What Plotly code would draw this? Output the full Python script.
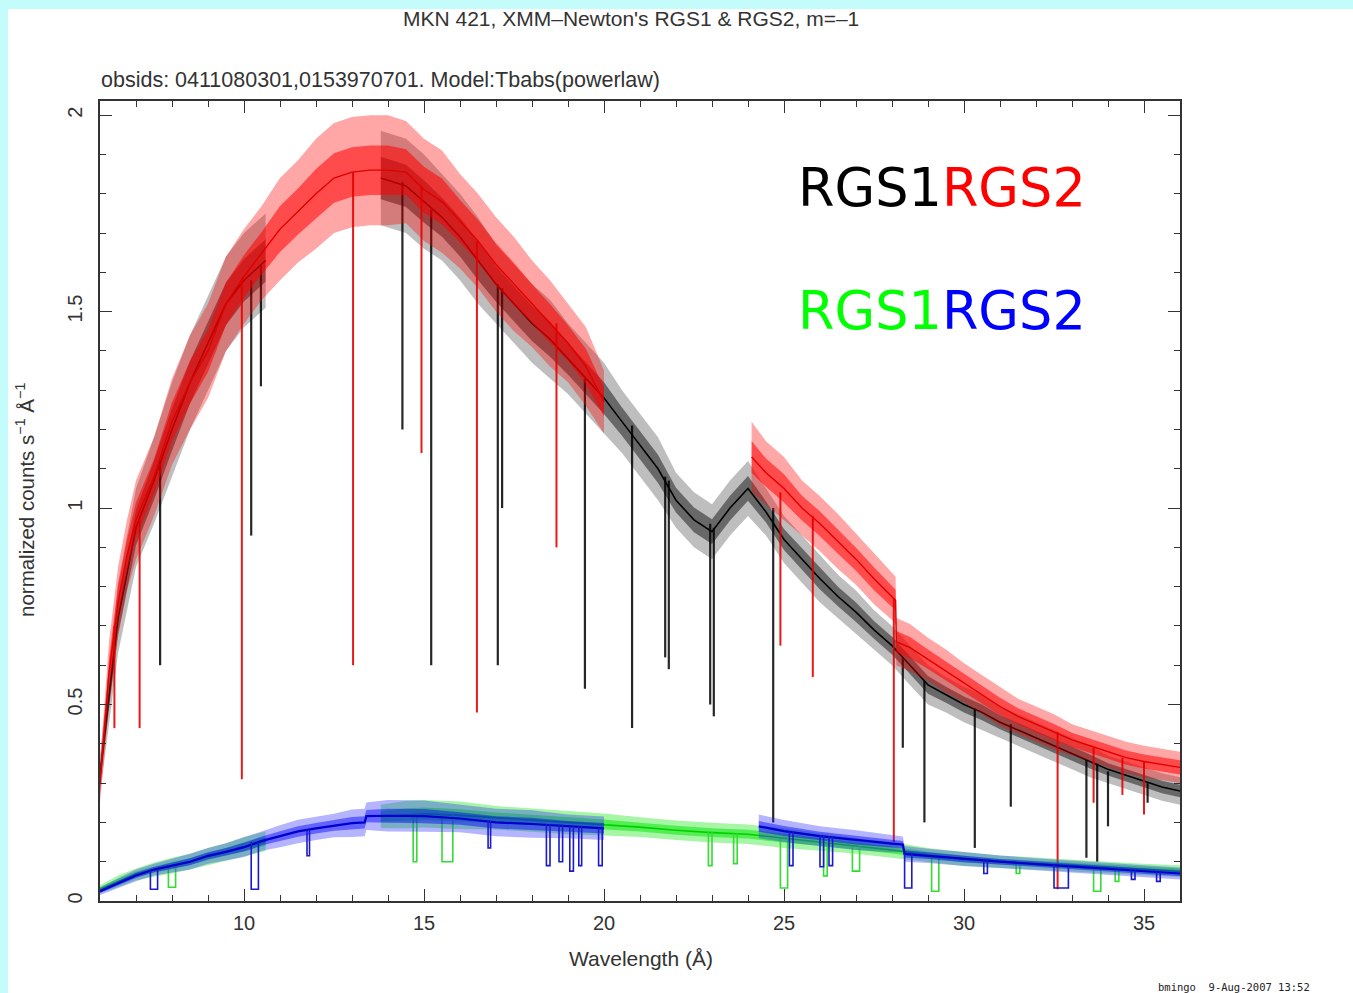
import plotly.graph_objects as go

# ---------------- data ----------------
# RGS1, obs 1 (black) -- two chip segments
BLK_A_WL = [6.0, 6.5, 7.0, 7.5, 8.0, 8.5, 9.0, 9.5, 10.0, 10.6]
BLK_A_FLUX = [0.32, 0.72, 0.95, 1.07, 1.20, 1.32, 1.42, 1.52, 1.58, 1.63]
BLK_A_ERR = [0.05, 0.09, 0.10, 0.11, 0.12, 0.12, 0.12, 0.12, 0.12, 0.12]
BLK_B_WL = [13.8, 14.5, 15.0, 15.5, 16.0, 16.5, 17.0, 17.5, 18.0, 18.5,
            19.0, 19.5, 20.0, 20.5, 21.0, 21.5, 22.0, 22.5, 23.0, 23.5,
            24.0, 24.5, 25.0, 25.5, 26.0, 26.5, 27.0, 27.5, 28.0, 28.5,
            29.0, 29.5, 30.0, 30.5, 31.0, 31.5, 32.0, 32.5, 33.0, 33.5,
            34.0, 34.5, 35.0, 35.5, 36.0]
BLK_B_FLUX = [1.84, 1.82, 1.78, 1.74, 1.69, 1.63, 1.57, 1.52, 1.47, 1.43,
              1.38, 1.33, 1.28, 1.22, 1.16, 1.10, 1.02, 0.97, 0.94, 1.00,
              1.05, 0.99, 0.92, 0.87, 0.82, 0.775, 0.735, 0.69, 0.65, 0.60,
              0.55, 0.525, 0.50, 0.48, 0.455, 0.435, 0.415, 0.395, 0.375, 0.355,
              0.335, 0.32, 0.305, 0.29, 0.28]
BLK_B_ERR = [0.12, 0.12, 0.12, 0.11, 0.11, 0.11, 0.10, 0.10, 0.10, 0.10,
             0.09, 0.09, 0.09, 0.08, 0.08, 0.08, 0.07, 0.07, 0.07, 0.07,
             0.07, 0.06, 0.06, 0.06, 0.06, 0.055, 0.055, 0.05, 0.05, 0.05,
             0.05, 0.045, 0.045, 0.045, 0.04, 0.04, 0.04, 0.04, 0.04, 0.04,
             0.035, 0.035, 0.035, 0.035, 0.035]

# RGS2, obs 1 (red)
RED_A_WL = [6.0, 6.25, 6.5, 6.75, 7.0, 7.5, 8.0, 8.5, 9.0, 9.5, 10.0, 10.5,
            11.0, 11.5, 12.0, 12.5, 13.0, 13.5, 14.0, 14.5, 15.0, 15.5,
            16.0, 16.5, 17.0, 17.5, 18.0, 18.5, 19.0, 19.5, 20.0]
RED_A_FLUX = [0.30, 0.58, 0.76, 0.88, 0.97, 1.08, 1.22, 1.32, 1.40, 1.52, 1.59, 1.65,
              1.71, 1.755, 1.80, 1.84, 1.855, 1.86, 1.86, 1.855, 1.81, 1.78,
              1.73, 1.68, 1.62, 1.57, 1.52, 1.47, 1.42, 1.36, 1.27]
RED_A_ERR = [0.05, 0.08, 0.09, 0.09, 0.10, 0.10, 0.11, 0.12, 0.12, 0.12, 0.12, 0.12,
             0.13, 0.13, 0.14, 0.14, 0.14, 0.14, 0.14, 0.13, 0.13, 0.13,
             0.12, 0.12, 0.12, 0.12, 0.11, 0.11, 0.10, 0.10, 0.08]
RED_B_WL = [24.1, 24.5, 25.0, 25.5, 26.0, 26.5, 27.0, 27.5, 28.0, 28.1, 28.12,
            28.5, 29.0, 29.5, 30.0, 30.5, 31.0, 31.5, 32.0, 32.5, 33.0,
            33.5, 34.0, 34.5, 35.0, 35.5, 36.0]
RED_B_FLUX = [1.13, 1.09, 1.05, 1.00, 0.96, 0.915, 0.87, 0.82, 0.775, 0.765, 0.66,
              0.645, 0.615, 0.585, 0.555, 0.525, 0.495, 0.47, 0.45, 0.43, 0.41,
              0.395, 0.38, 0.365, 0.355, 0.348, 0.34]
RED_B_ERR = [0.09, 0.08, 0.08, 0.07, 0.07, 0.07, 0.065, 0.065, 0.06, 0.06, 0.06,
             0.06, 0.055, 0.055, 0.05, 0.05, 0.05, 0.045, 0.045, 0.045, 0.04,
             0.04, 0.04, 0.04, 0.04, 0.04, 0.04]

# RGS1, obs 2 (green)
GRN_A_WL = [6.0, 6.5, 7.0, 7.5, 8.0, 8.5, 9.0, 9.5, 10.0, 10.6]
GRN_A_FLUX = [0.03, 0.05, 0.068, 0.08, 0.09, 0.10, 0.113, 0.125, 0.138, 0.152]
GRN_A_ERR = [0.01, 0.015, 0.015, 0.018, 0.02, 0.02, 0.022, 0.022, 0.025, 0.025]
GRN_B_WL = [13.8, 14.5, 15.0, 16.0, 17.0, 18.0, 19.0, 20.0, 21.0, 22.0, 23.0, 24.0,
            25.0, 26.0, 27.0, 28.0, 29.0, 30.0, 31.0, 32.0, 33.0, 34.0, 35.0, 36.0]
GRN_B_FLUX = [0.215, 0.22, 0.222, 0.218, 0.212, 0.206, 0.20, 0.195, 0.188, 0.18, 0.174, 0.17,
              0.16, 0.15, 0.14, 0.13, 0.117, 0.107, 0.10, 0.095, 0.09, 0.085, 0.08, 0.076]
GRN_B_ERR = [0.03, 0.035, 0.035, 0.035, 0.03, 0.03, 0.03, 0.028, 0.025, 0.025, 0.025, 0.025,
             0.025, 0.022, 0.02, 0.02, 0.018, 0.018, 0.016, 0.016, 0.015, 0.015, 0.015, 0.015]

# RGS2, obs 2 (blue)
BLU_A_WL = [6.0, 6.5, 7.0, 7.5, 8.0, 8.5, 9.0, 9.5, 10.0, 10.5, 11.0, 11.5,
            12.0, 12.5, 13.0, 13.35, 13.4, 14.0, 15.0, 16.0, 17.0, 18.0, 19.0, 20.0]
BLU_A_FLUX = [0.025, 0.045, 0.065, 0.08, 0.09, 0.10, 0.115, 0.125, 0.137, 0.153, 0.165, 0.177,
              0.185, 0.192, 0.198, 0.20, 0.216, 0.217, 0.216, 0.21, 0.20, 0.196, 0.19, 0.185]
BLU_A_ERR = [0.01, 0.012, 0.015, 0.015, 0.018, 0.02, 0.02, 0.022, 0.025, 0.025, 0.028, 0.03,
             0.03, 0.03, 0.035, 0.035, 0.035, 0.04, 0.04, 0.035, 0.035, 0.035, 0.03, 0.03]
BLU_B_WL = [24.3, 25.0, 26.0, 27.0, 28.0, 28.3, 28.35, 29.0, 30.0, 31.0, 32.0, 33.0, 34.0, 35.0, 36.0]
BLU_B_FLUX = [0.19, 0.178, 0.165, 0.155, 0.146, 0.144, 0.12, 0.115, 0.107, 0.10, 0.094, 0.088,
              0.082, 0.076, 0.07]
BLU_B_ERR = [0.03, 0.028, 0.025, 0.025, 0.022, 0.02, 0.02, 0.018, 0.018, 0.016, 0.015, 0.015,
             0.015, 0.015, 0.015]

# narrow absorption features: wavelength, continuum level, bottom of the dip
BLK_DIP_WL = [7.67, 10.2, 10.47, 14.4, 15.2, 17.05, 17.17, 19.47, 20.78, 21.7, 21.8, 22.95,
              23.05, 24.7, 28.3, 28.9, 30.3, 31.3, 33.4, 33.7, 34.0, 35.1]
BLK_DIP_TOP = [1.12, 1.58, 1.62, 1.83, 1.76, 1.57, 1.56, 1.33, 1.21, 1.08, 1.07, 0.96,
               0.95, 1.00, 0.62, 0.56, 0.49, 0.45, 0.36, 0.35, 0.33, 0.30]
BLK_DIP_BOT = [0.60, 0.93, 1.31, 1.20, 0.60, 0.60, 1.00, 0.54, 0.44, 0.62, 0.59, 0.50,
               0.47, 0.20, 0.39, 0.20, 0.135, 0.24, 0.11, 0.10, 0.19, 0.25]

RED_DIP_WL = [6.4, 7.1, 9.94, 13.03, 14.93, 16.47, 18.68, 24.9, 25.8, 28.05, 32.6, 33.6, 34.4, 35.0]
RED_DIP_TOP = [0.70, 0.97, 1.58, 1.855, 1.82, 1.68, 1.47, 1.04, 0.98, 0.77, 0.43, 0.39, 0.365, 0.355]
RED_DIP_BOT = [0.44, 0.44, 0.31, 0.60, 1.14, 0.48, 0.90, 0.65, 0.57, 0.15, 0.03, 0.25, 0.27, 0.22]

# bad-column notches in the low-flux model curves: start, end, top, bottom
BLU_NOTCH_LO = [7.4, 10.2, 11.75, 16.78, 18.4, 18.75, 19.05, 19.3, 19.85, 25.15, 26.0, 26.25,
                28.35, 30.55, 32.5, 34.65, 35.35]
BLU_NOTCH_HI = [7.6, 10.4, 11.82, 16.85, 18.5, 18.85, 19.15, 19.38, 19.95, 25.25, 26.1, 26.35,
                28.55, 30.65, 32.9, 34.75, 35.45]
BLU_NOTCH_TOP = [0.08, 0.15, 0.18, 0.204, 0.196, 0.195, 0.19, 0.19, 0.186, 0.177, 0.166, 0.165,
                 0.12, 0.107, 0.093, 0.08, 0.076]
BLU_NOTCH_BOT = [0.03, 0.03, 0.115, 0.135, 0.09, 0.10, 0.076, 0.09, 0.09, 0.09, 0.087, 0.09,
                 0.033, 0.07, 0.033, 0.055, 0.05]
GRN_NOTCH_LO = [7.9, 14.7, 15.5, 22.9, 23.6, 24.9, 26.1, 26.9, 29.1, 31.45, 33.6, 34.2]
GRN_NOTCH_HI = [8.1, 14.8, 15.8, 23.0, 23.7, 25.1, 26.2, 27.1, 29.3, 31.55, 33.8, 34.3]
GRN_NOTCH_TOP = [0.09, 0.22, 0.22, 0.175, 0.172, 0.16, 0.15, 0.14, 0.113, 0.098, 0.088, 0.085]
GRN_NOTCH_BOT = [0.035, 0.10, 0.10, 0.09, 0.095, 0.033, 0.064, 0.076, 0.025, 0.07, 0.025, 0.05]

X_TICKS = [10, 15, 20, 25, 30, 35]
Y_TICKS = [0, 0.5, 1, 1.5, 2]

# ---------------- figure ----------------
fig = go.Figure()


def band(wl, flux, err, rgb, alpha, scale=1.0):
    up = [f + e * scale for f, e in zip(flux, err)]
    lo = [f - e * scale for f, e in zip(flux, err)]
    fig.add_trace(go.Scatter(
        x=list(wl) + list(wl)[::-1], y=up + lo[::-1], fill="toself",
        fillcolor=f"rgba({rgb},{alpha})", line=dict(width=0), mode="lines",
        hoverinfo="skip", showlegend=False))


def model(wl, flux, color, width):
    fig.add_trace(go.Scatter(x=wl, y=flux, mode="lines",
                             line=dict(color=color, width=width),
                             showlegend=False))


def dips(wl, top, bot, color, width):
    xs, ys = [], []
    for w, t, b in zip(wl, top, bot):
        xs += [w, w, None]
        ys += [t, b, None]
    fig.add_trace(go.Scatter(x=xs, y=ys, mode="lines",
                             line=dict(color=color, width=width),
                             showlegend=False))


def notches(lo, hi, top, bot, color, width):
    xs, ys = [], []
    for a, b, t, m in zip(lo, hi, top, bot):
        xs += [a, a, b, b, None]
        ys += [t, m, m, t, None]
    fig.add_trace(go.Scatter(x=xs, y=ys, mode="lines",
                             line=dict(color=color, width=width),
                             showlegend=False))


# black (RGS1 obs1)
for wl, fl, er in [(BLK_A_WL, BLK_A_FLUX, BLK_A_ERR), (BLK_B_WL, BLK_B_FLUX, BLK_B_ERR)]:
    band(wl, fl, er, "40,40,40", 0.30)
    band(wl, fl, er, "0,0,0", 0.45, 0.45)
    model(wl, fl, "black", 1.6)
dips(BLK_DIP_WL, BLK_DIP_TOP, BLK_DIP_BOT, "rgba(0,0,0,0.85)", 2.2)

# red (RGS2 obs1)
for wl, fl, er in [(RED_A_WL, RED_A_FLUX, RED_A_ERR), (RED_B_WL, RED_B_FLUX, RED_B_ERR)]:
    band(wl, fl, er, "255,0,0", 0.35)
    band(wl, fl, er, "255,0,0", 0.55, 0.45)
    model(wl, fl, "#e00000", 1.4)
dips(RED_DIP_WL, RED_DIP_TOP, RED_DIP_BOT, "rgba(230,0,0,0.9)", 2)

# green (RGS1 obs2)
for wl, fl, er in [(GRN_A_WL, GRN_A_FLUX, GRN_A_ERR), (GRN_B_WL, GRN_B_FLUX, GRN_B_ERR)]:
    band(wl, fl, er, "0,230,0", 0.35)
    band(wl, fl, er, "0,230,0", 0.5, 0.45)
    model(wl, fl, "#00d000", 1.6)
notches(GRN_NOTCH_LO, GRN_NOTCH_HI, GRN_NOTCH_TOP, GRN_NOTCH_BOT, "#33dd33", 1.6)

# blue (RGS2 obs2)
for wl, fl, er in [(BLU_A_WL, BLU_A_FLUX, BLU_A_ERR), (BLU_B_WL, BLU_B_FLUX, BLU_B_ERR)]:
    band(wl, fl, er, "40,40,255", 0.35)
    band(wl, fl, er, "0,0,255", 0.45, 0.45)
    model(wl, fl, "#0000cc", 2.2)
notches(BLU_NOTCH_LO, BLU_NOTCH_HI, BLU_NOTCH_TOP, BLU_NOTCH_BOT, "#1a1acc", 1.6)

# ---------------- layout ----------------
W, H = 1353, 993
L, R, T, B = 100, 173, 101, 92
PW, PH = W - L - R, H - T - B


def px(x):
    return (x - L) / PW


def py(y):
    return (H - B - y) / PH


TXT = "#333333"
FONT = "Liberation Sans"

axis_common = dict(
    showline=True, linecolor="#333", linewidth=1.5, mirror="allticks",
    ticks="inside", ticklen=12, tickwidth=1.2, tickcolor="#333",
    showgrid=False, zeroline=False,
    tickfont=dict(family=FONT, size=20, color=TXT),
)
fig.update_layout(
    width=W, height=H, margin=dict(l=L, r=R, t=T, b=B),
    paper_bgcolor="white", plot_bgcolor="white", showlegend=False,
    xaxis=dict(range=[6, 36], tickvals=X_TICKS,
               minor=dict(ticks="inside", ticklen=6, dtick=1, tick0=0, tickcolor="#333", showgrid=False),
               ticklabelstandoff=3, **axis_common),
    yaxis=dict(range=[0, 2.036], tickvals=Y_TICKS, tickangle=-90,
               minor=dict(ticks="inside", ticklen=6, dtick=0.1, tick0=0, tickcolor="#333", showgrid=False),
               ticklabelstandoff=8, **axis_common),
    shapes=[
        dict(type="rect", xref="paper", yref="paper", x0=px(0), x1=px(W), y0=py(9), y1=py(0),
             fillcolor="#c4fcfc", line=dict(width=0), layer="below"),
        dict(type="rect", xref="paper", yref="paper", x0=px(0), x1=px(8), y0=py(H), y1=py(0),
             fillcolor="#c4fcfc", line=dict(width=0), layer="below"),
    ],
)

ann = [
    dict(text="MKN 421, XMM–Newton's RGS1 & RGS2, m=–1", x=px(631), y=py(18),
         font=dict(family=FONT, size=21, color=TXT)),
    dict(text="obsids: 0411080301,0153970701. Model:Tbabs(powerlaw)", x=px(99), y=py(80),
         xanchor="left", font=dict(family=FONT, size=21.5, color=TXT)),
    dict(text="Wavelength (Å)", x=px(641), y=py(958), font=dict(family=FONT, size=21, color=TXT)),
    dict(text="normalized counts s<sup>−1</sup> Å<sup>−1</sup>", x=px(25), y=py(500), textangle=-90,
         font=dict(family=FONT, size=20.5, color=TXT)),
    dict(text="bmingo  9-Aug-2007 13:52", x=px(1234), y=py(987),
         font=dict(family="DejaVu Sans Mono", size=10.5, color="#222")),
    dict(text="<span style='color:#000000'>RGS1</span><span style='color:#ff0000'>RGS2</span>",
         x=px(796), y=py(187), xanchor="left", font=dict(family="DejaVu Sans", size=52.5)),
    dict(text="<span style='color:#00ff00'>RGS1</span><span style='color:#0000ff'>RGS2</span>",
         x=px(796), y=py(310), xanchor="left", font=dict(family="DejaVu Sans", size=52.5)),
]
for a in ann:
    a.setdefault("xanchor", "center")
    a.update(xref="paper", yref="paper", yanchor="middle", showarrow=False)
fig.update_layout(annotations=ann)

fig.write_html("out.html")
